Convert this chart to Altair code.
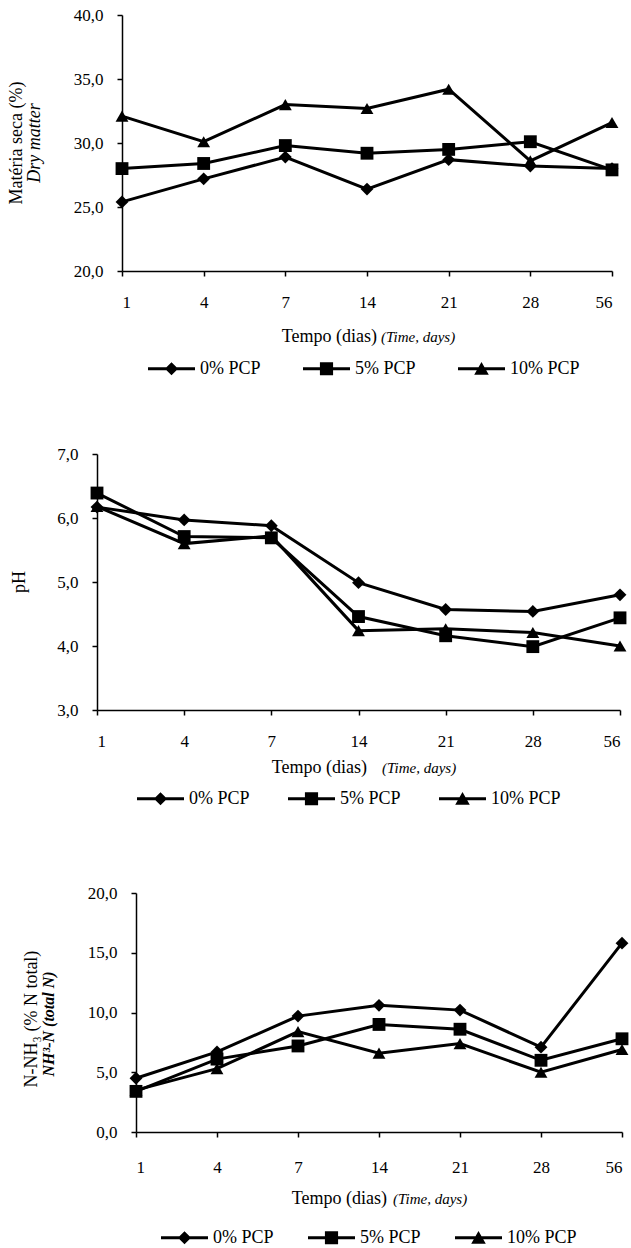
import altair as alt
import pandas as pd

# Sampling days (equally spaced categories on the x axis)
days = [1, 4, 7, 14, 21, 28, 56]
series = ["0% PCP", "5% PCP", "10% PCP"]

# Dry matter (%)
dm_0 = [25.4, 27.2, 28.9, 26.4, 28.7, 28.2, 28.0]
dm_5 = [28.0, 28.4, 29.8, 29.2, 29.5, 30.1, 27.9]
dm_10 = [32.1, 30.1, 33.0, 32.7, 34.2, 28.6, 31.6]

# pH
ph_0 = [6.17, 5.97, 5.88, 4.99, 4.57, 4.54, 4.80]
ph_5 = [6.39, 5.71, 5.69, 4.46, 4.16, 3.99, 4.44]
ph_10 = [6.18, 5.60, 5.72, 4.24, 4.27, 4.21, 4.00]

# N-NH3 (% of total N)
nh3_0 = [4.5, 6.7, 9.7, 10.6, 10.2, 7.1, 15.8]
nh3_5 = [3.4, 6.1, 7.2, 9.0, 8.6, 6.0, 7.8]
nh3_10 = [3.5, 5.3, 8.4, 6.6, 7.4, 5.0, 6.9]

FONT = "Liberation Serif, Times New Roman, serif"

MARK_SHAPES = ["diamond", "square", "triangle-up"]
# legend keys: a thick line segment with the series marker in the middle
SEG = "M-1,-0.064L1,-0.064L1,0.064L-1,0.064Z"
KEY_SHAPES = [
    SEG + "M0,-0.28L0.28,0L0,0.28L-0.28,0Z",
    SEG + "M-0.28,-0.28L0.28,-0.28L0.28,0.28L-0.28,0.28Z",
    SEG + "M0,-0.29L0.31,0.26L-0.31,0.26Z",
]

day_label_expr = "[" + ",".join(f"'{d}'" for d in days) + "][datum.value]"
comma_expr = "replace(format(datum.value, '.1f'), '.', ',')"


def long_table(values):
    rows = []
    for name, vals in zip(series, values):
        for i, (d, v) in enumerate(zip(days, vals)):
            rows.append({"serie": name, "idx": i, "dia": d, "valor": v})
    return pd.DataFrame(rows)


def label(text, x, y, size, angle=0, style="normal", weight="normal", align="center"):
    return alt.Chart(pd.DataFrame({"t": [text]})).mark_text(
        font=FONT, fontSize=size, fontStyle=style, fontWeight=weight,
        angle=angle, align=align, baseline="middle", color="black",
    ).encode(text="t:N", x=alt.value(x), y=alt.value(y))


def panel(values, ydom, yticks, xrange, yoffset, height, xpad,
          ytitles, xtitle_y, xtitle_split, legend_xy, col_pad, anchor=None):
    df = long_table(values)
    x = alt.X(
        "idx:Q",
        scale=alt.Scale(domain=[0, len(days) - 1], range=xrange, nice=False, zero=False),
        axis=alt.Axis(values=list(range(len(days))), labelExpr=day_label_expr,
                      title=None, tickSize=5, labelPadding=xpad),
    )
    y = alt.Y(
        "valor:Q",
        scale=alt.Scale(domain=ydom, nice=False, zero=False),
        axis=alt.Axis(values=yticks, labelExpr=comma_expr, title=None,
                      offset=yoffset, tickSize=5, labelPadding=14),
    )
    base = alt.Chart(df)
    lines = base.mark_line(color="black", strokeWidth=3).encode(
        x=x, y=y, detail="serie:N", order="idx:Q")
    pts = base.mark_point(filled=True, color="black", opacity=1, size=165).encode(
        x=x, y=y,
        shape=alt.Shape("serie:N", scale=alt.Scale(domain=series, range=MARK_SHAPES), legend=None),
    )
    key = base.transform_filter("false").mark_point(filled=True, color="black", opacity=1).encode(
        x=x, y=y,
        shape=alt.Shape(
            "serie:N",
            scale=alt.Scale(domain=series, range=KEY_SHAPES),
            legend=alt.Legend(
                title=None, orient="none", direction="horizontal",
                legendX=legend_xy[0], legendY=legend_xy[1],
                symbolSize=2209, symbolFillColor="black", symbolStrokeWidth=0,
                symbolOpacity=1, labelFont=FONT, labelFontSize=18, labelColor="black",
                labelOffset=5, columnPadding=col_pad, padding=0,
            ),
        ),
    )
    layers = []
    if anchor is not None:
        layers.append(
            alt.Chart(pd.DataFrame({"a": [0]})).mark_rule(color="white", strokeWidth=1).encode(
                x=alt.value(anchor[0]), x2=alt.value(anchor[0] + 1),
                y=alt.value(anchor[1]), y2=alt.value(anchor[1])))
    layers += [lines, pts, key]
    layers += [label(**t) for t in ytitles]
    layers.append(label("Tempo (dias)", xtitle_split[0], xtitle_y, 18, align="right"))
    layers.append(label("(Time, days)", xtitle_split[1], xtitle_y, 15, style="italic", align="left"))
    return alt.layer(*layers).resolve_scale(shape="independent").properties(
        width=526, height=height)


p1 = panel(
    [dm_0, dm_5, dm_10], [20, 40], [20, 25, 30, 35, 40], [25, 515], -25, 256, 18,
    [dict(text="Matéria seca (%)", x=-80, y=128, size=18, angle=270),
     dict(text="Dry matter", x=-62, y=128, size=18, angle=270, style="italic")],
    322, (280, 284), (51, 330), 42, anchor=(-96.5, -14.5),
)
p2 = panel(
    [ph_0, ph_5, ph_10], [3, 7], [3, 4, 5, 6, 7], [0, 523], 0, 256, 18,
    [dict(text="pH", x=-77, y=128, size=18, angle=270)],
    314, (270, 285), (40, 321), 38,
)
p3 = panel(
    [nh3_0, nh3_5, nh3_10], [0, 20], [0, 5, 10, 15, 20], [39, 525], -39, 239, 22,
    [dict(text="N-NH₃ (% N total)", x=-65, y=126, size=18, angle=270),
     dict(text="NH³-N (total N)", x=-48, y=131, size=16, angle=270, style="italic", weight="bold")],
    306, (290, 296), (64, 321), 34,
)

chart = alt.vconcat(p1, p2, p3, spacing=183, bounds="flush").resolve_scale(
    x="independent", y="independent", shape="independent"
).resolve_legend(shape="independent").properties(
    padding=0, background="white"
).configure_view(stroke=None).configure_axis(
    grid=False, domainColor="black", tickColor="black", domainWidth=1.5, tickWidth=1.5,
    labelFont=FONT, labelFontSize=17, labelColor="black",
)

chart.save("out.html", embed_options={"renderer": "svg", "actions": False})
